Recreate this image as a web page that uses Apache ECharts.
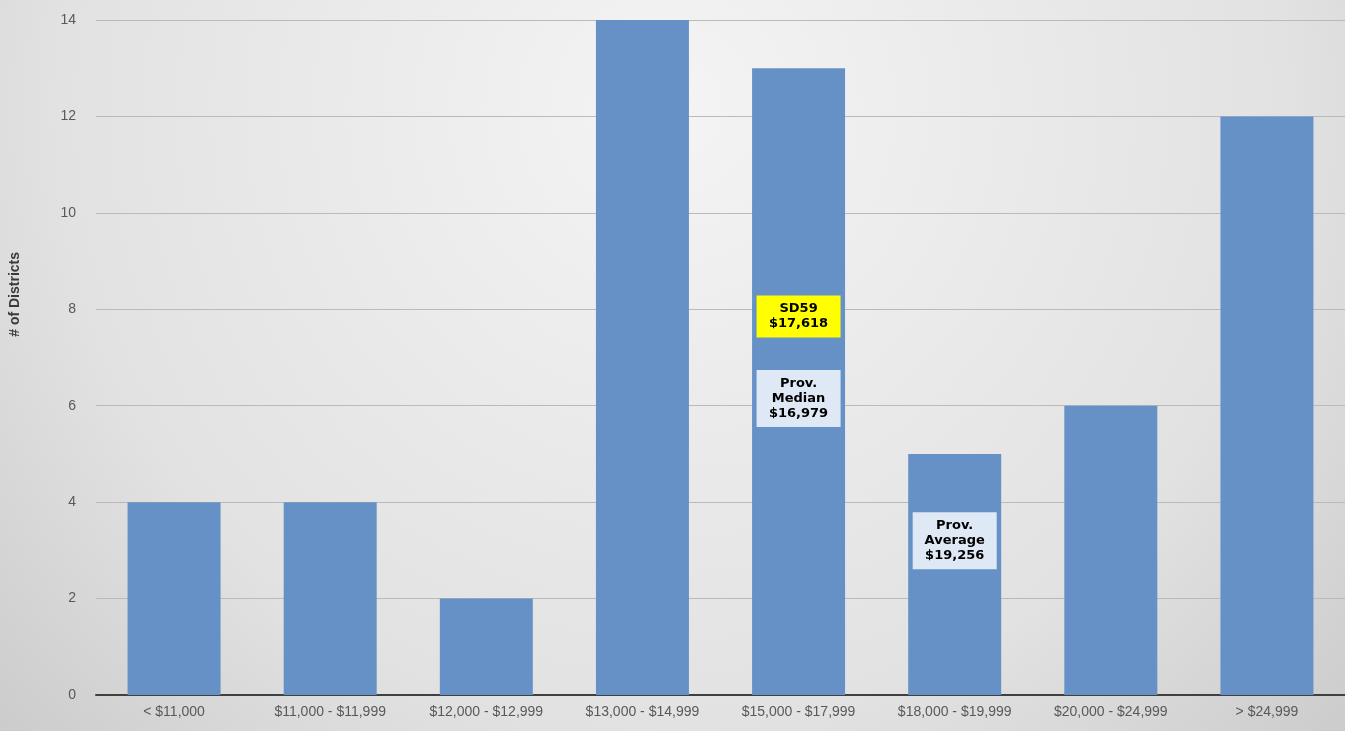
<!DOCTYPE html>
<html><head><meta charset="utf-8">
<script src="https://cdn.jsdelivr.net/npm/echarts@6/dist/echarts.min.js"></script>
<style>html,body{margin:0;padding:0;}#c{width:1345px;height:731px;}</style>
</head><body><div id="c"></div>
<script>
const categories = ['< $11,000','$11,000 - $11,999','$12,000 - $12,999','$13,000 - $14,999','$15,000 - $17,999','$18,000 - $19,999','$20,000 - $24,999','> $24,999'];
const districts = [4,4,2,14,13,5,6,12];
const yTicks = [0,2,4,6,8,10,12,14];
const noteCats = ['$15,000 - $17,999','$15,000 - $17,999','$18,000 - $19,999'];
const noteVals = [7.85,6.15,3.2];
const noteTexts = ['SD59\n$17,618','Prov.\nMedian\n$16,979','Prov.\nAverage\n$19,256'];
const noteFills = ['#ffff00','#dfe9f5','#dfe9f5'];

const chart = echarts.init(document.getElementById('c'));
chart.setOption({
  backgroundColor: {type:'radial', x:0.5, y:0.15, r:1.4, colorStops:[{offset:0,color:'#f4f4f4'},{offset:0.6,color:'#e2e2e2'},{offset:1,color:'#c4c4c4'}]},
  animation:false,
  grid:{left:96,right:0,top:20,bottom:36},
  xAxis:{type:'category',data:categories,
    axisLine:{lineStyle:{color:'#404040',width:2}},axisTick:{show:false},
    axisLabel:{color:'#595959',fontSize:14,fontFamily:'Liberation Sans Narrow, Liberation Sans, sans-serif',margin:10,interval:0}},
  yAxis:{type:'value',min:yTicks[0],max:yTicks[yTicks.length-1],interval:2,
    axisLine:{show:false},axisTick:{show:false},
    splitLine:{lineStyle:{color:'#bababa',width:1}},
    axisLabel:{color:'#595959',fontSize:14,fontFamily:'Liberation Sans, sans-serif',margin:20}},
  graphic:[{type:'text',left:8,top:252,rotation:Math.PI/2,
    style:{text:'# of Districts',fill:'#3a3a3a',font:'bold 14px Liberation Sans Narrow, Liberation Sans, sans-serif'}}],
  series:[
    {type:'bar',data:districts,barWidth:93,itemStyle:{color:'#6591c7'}},
    {type:'scatter',symbolSize:0,z:10,itemStyle:{opacity:1},
      data:noteCats.map((c,i)=>({value:[c,noteVals[i]],
        label:{show:true,position:'inside',formatter:noteTexts[i],backgroundColor:noteFills[i],opacity:1,
          color:'#000',fontWeight:'bold',fontSize:13,lineHeight:15,
          fontFamily:'DejaVu Sans, sans-serif',width:72,align:'center',padding:[6,6]}}))}
  ]
});
</script></body></html>
